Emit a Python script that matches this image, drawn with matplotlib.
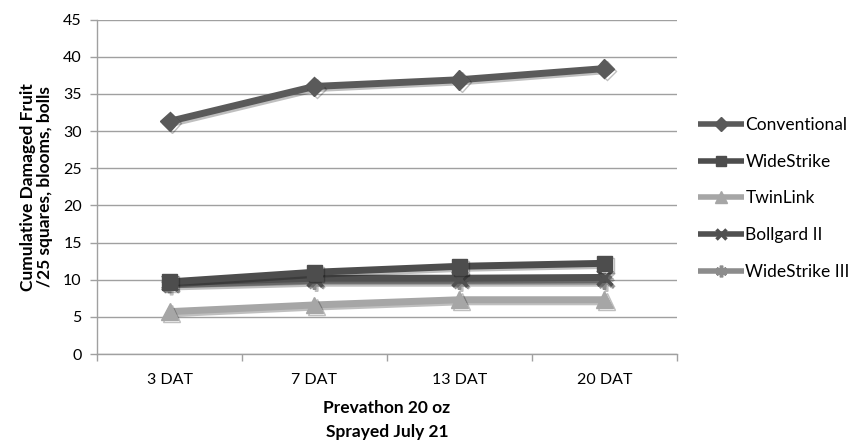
import matplotlib
matplotlib.use("Agg")
import matplotlib.pyplot as plt
import matplotlib.patheffects as pe
from matplotlib.ticker import FixedLocator, MultipleLocator

plt.rcParams['font.family'] = ['Lato', 'DejaVu Sans']

categories = ["3 DAT", "7 DAT", "13 DAT", "20 DAT"]
conventional = [31.3, 36.0, 36.9, 38.4]
widestrike = [9.7, 11.0, 11.8, 12.2]
twinlink = [5.7, 6.6, 7.3, 7.3]
bollgard2 = [9.6, 10.2, 10.2, 10.3]
widestrike3 = [9.3, 9.8, 9.8, 9.8]

series = [
    ("Conventional", conventional, "#5a5a5a", "D", 10),
    ("WideStrike", widestrike, "#4d4d4d", "s", 11),
    ("TwinLink", twinlink, "#a6a6a6", "^", 12),
    ("Bollgard II", bollgard2, "#505050", "x", 11),
    ("WideStrike III", widestrike3, "#8c8c8c", (6, 2, 0), 12),
]

fig = plt.figure(figsize=(8.54, 4.44), dpi=100)
ax = fig.add_axes([0.1136, 0.2027, 0.6791, 0.7533])

x = list(range(len(categories)))
shadow = [pe.SimpleLineShadow(offset=(1.5, -1.5), alpha=0.25, shadow_color="black"), pe.Normal()]

# draw bottom-to-top so the conventional line sits on top
order = [4, 3, 2, 1, 0]
for i in order:
    name, vals, col, mk, ms = series[i]
    ax.plot(x, vals, color=col, lw=5, marker=mk, markersize=ms,
            markerfacecolor=col, markeredgecolor=col,
            markeredgewidth=2.5 if mk in ("x", (6, 2, 0)) else 1,
            label=name, path_effects=shadow, zorder=3 + (4 - i), solid_capstyle="butt")

ax.set_xlim(-0.5, 3.5)
ax.set_ylim(0, 45)
ax.yaxis.set_major_locator(MultipleLocator(5))
ax.set_xticks(x)
ax.set_xticklabels(categories, fontsize=11.5)
ax.xaxis.set_minor_locator(FixedLocator([-0.5, 0.5, 1.5, 2.5, 3.5]))
ax.tick_params(axis="x", which="major", length=0, pad=14)
ax.tick_params(axis="x", which="minor", length=5, color="#a0a0a0", width=1)
ax.tick_params(axis="y", which="major", length=5, color="#a0a0a0", width=1, labelsize=11.5, pad=6)

ax.grid(axis="y", color="#a0a0a0", lw=1)
ax.set_axisbelow(True)
for s in ("top", "right"):
    ax.spines[s].set_visible(False)
for s in ("left", "bottom"):
    ax.spines[s].set_color("#a0a0a0")
    ax.spines[s].set_linewidth(1)

ax.set_ylabel("Cumulative Damaged Fruit\n/25 squares, blooms, bolls", fontsize=12.5,
              fontweight="bold", linespacing=1.1, labelpad=7)
ax.set_xlabel("Prevathon 20 oz\nSprayed July 21", fontsize=12.5, fontweight="bold",
              linespacing=1.6, labelpad=9)

handles, labels = ax.get_legend_handles_labels()
lookup = dict(zip(labels, handles))
names = [s[0] for s in series]
leg = ax.legend([lookup[n] for n in names], names, loc="center left",
                bbox_to_anchor=(1.025, 0.465), frameon=False, fontsize=12.5,
                handlelength=2.6, handletextpad=0.1, labelspacing=1.2,
                markerscale=0.7, borderaxespad=0)
for h in leg.get_lines():
    h.set_linewidth(4)
    h.set_path_effects([])

fig.savefig("out.png", dpi=100, facecolor="white")
